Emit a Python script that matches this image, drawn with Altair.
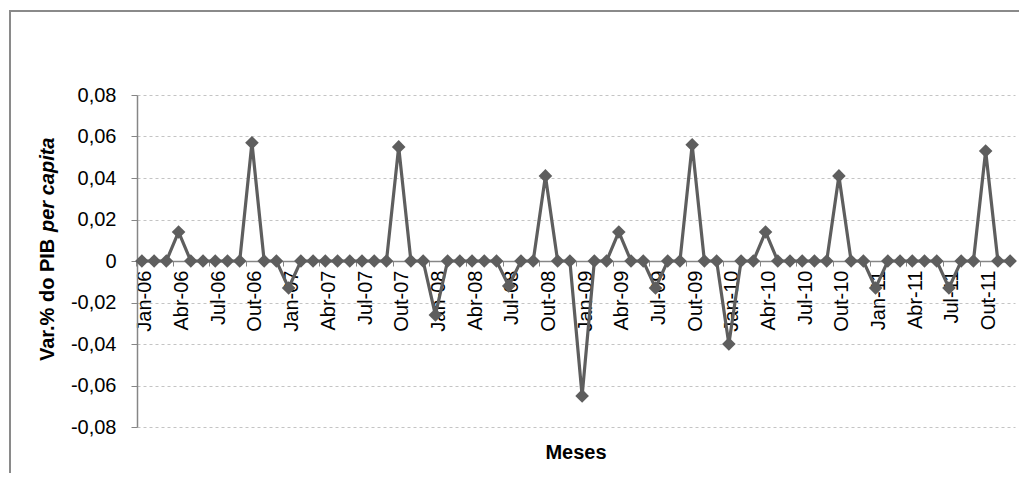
import altair as alt
import pandas as pd

years = ["06", "07", "08", "09", "10", "11"]
month_names = ["Jan", "Fev", "Mar", "Abr", "Mai", "Jun", "Jul", "Ago", "Set", "Out", "Nov", "Dez"]

v2006 = [0, 0, 0, 0.014, 0, 0, 0, 0, 0, 0.057, 0, 0]
v2007 = [-0.013, 0, 0, 0, 0, 0, 0, 0, 0, 0.055, 0, 0]
v2008 = [-0.026, 0, 0, 0, 0, 0, -0.012, 0, 0, 0.041, 0, 0]
v2009 = [-0.065, 0, 0, 0.014, 0, 0, -0.013, 0, 0, 0.056, 0, 0]
v2010 = [-0.040, 0, 0, 0.014, 0, 0, 0, 0, 0, 0.041, 0, 0]
v2011 = [-0.013, 0, 0, 0, 0, 0, -0.013, 0, 0, 0.053, 0, 0]

months = [f"{m}-{y}" for y in years for m in month_names]
values = v2006 + v2007 + v2008 + v2009 + v2010 + v2011
tick_months = months[::3]
y_ticks = [-0.08, -0.06, -0.04, -0.02, 0, 0.02, 0.04, 0.06, 0.08]

x_title = "Meses"
y_title_a = "Var.% do PIB "
y_title_b = "per capita"

FONT = "Liberation Sans"
LINE = "#5e5e5e"
AXIS = "#868686"

W, H = 878, 332

df = pd.DataFrame({"mes": months, "var": values})

x_enc = alt.X(
    "mes:O",
    sort=months,
    scale=alt.Scale(type="point", padding=0.4),
    axis=alt.Axis(
        values=tick_months,
        title=None,
        orient="bottom",
        offset=-H / 2,
        labelAngle=270,
        labelAlign="right",
        labelBaseline="middle",
        labelFont=FONT,
        labelFontSize=20,
        labelColor="black",
        labelPadding=4,
        labelOffset=9,
        tickOffset=-6,
        tickSize=5,
        tickColor=AXIS,
        domainColor=AXIS,
        domainWidth=1.5,
        grid=False,
        labelOverlap=False,
    ),
)

y_enc = alt.Y(
    "var:Q",
    scale=alt.Scale(domain=[-0.08, 0.08], nice=False, zero=False),
    axis=alt.Axis(
        values=y_ticks,
        title=None,
        labelExpr="abs(datum.value) < 1e-9 ? '0' : (datum.value < 0 ? '-' : '') + replace(format(abs(datum.value), '.2f'), '.', ',')",
        labelFont=FONT,
        labelFontSize=20,
        labelColor="black",
        labelPadding=15,
        tickSize=6,
        tickColor=AXIS,
        domainColor=AXIS,
        domainWidth=1.5,
        grid=True,
        gridColor="#c4c4c4",
        gridDash=[3, 3],
        gridWidth=1,
    ),
)

base = alt.Chart(df).encode(x=x_enc, y=y_enc)
line = base.mark_line(color=LINE, strokeWidth=3.2)
points = base.mark_point(shape="diamond", filled=True, color=LINE, size=185, opacity=1)

one = pd.DataFrame({"k": [0]})

frame_left = alt.Chart(one).mark_rule(color="#8a8a8a", strokeWidth=2).encode(
    x=alt.value(-127), y=alt.value(-84), y2=alt.value(H + 200)
)
frame_top = alt.Chart(one).mark_rule(color="#8a8a8a", strokeWidth=2).encode(
    x=alt.value(-128), x2=alt.value(W + 300), y=alt.value(-84)
)

ytitle_a = alt.Chart(pd.DataFrame({"t": [y_title_a]})).mark_text(
    angle=270, align="left", baseline="middle", font=FONT, fontSize=20, fontWeight="bold", color="black"
).encode(text="t:N", x=alt.value(-89), y=alt.value(266))

ytitle_b = alt.Chart(pd.DataFrame({"t": [y_title_b]})).mark_text(
    angle=270, align="left", baseline="middle", font=FONT, fontSize=20, fontWeight="bold",
    fontStyle="italic", color="black"
).encode(text="t:N", x=alt.value(-89), y=alt.value(137))

xtitle = alt.Chart(pd.DataFrame({"t": [x_title]})).mark_text(
    align="center", baseline="middle", font=FONT, fontSize=20, fontWeight="bold", color="black"
).encode(text="t:N", x=alt.value(W / 2), y=alt.value(358))

chart = (
    alt.layer(frame_left, frame_top, line, points, ytitle_a, ytitle_b, xtitle)
    .properties(
        width=W,
        height=H,
        autosize=alt.AutoSizeParams(type="none"),
        padding={"left": 129, "top": 87, "right": 4, "bottom": 46},
        background="white",
    )
    .configure_view(stroke=None)
)

chart.save("out.html", embed_options={"renderer": "svg", "actions": False})
